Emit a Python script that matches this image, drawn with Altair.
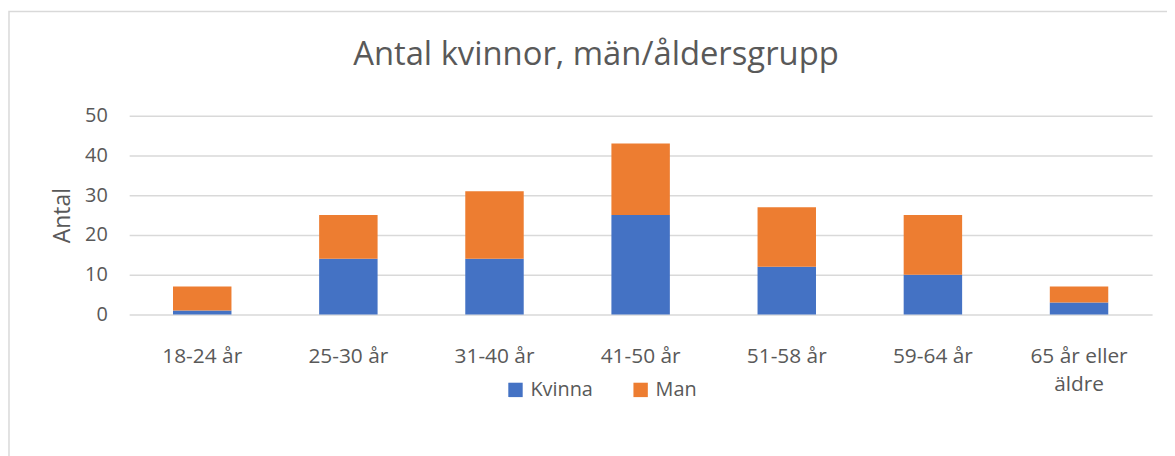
import altair as alt
import pandas as pd

categories = ["18-24 år", "25-30 år", "31-40 år", "41-50 år", "51-58 år", "59-64 år", "65 år eller äldre"]
kvinna = [1, 14, 14, 25, 12, 10, 3]
man = [6, 11, 17, 18, 15, 15, 4]
series = ["Kvinna", "Man"]
colors = ["#4472C4", "#ED7D31"]
y_ticks = [0, 10, 20, 30, 40, 50]
title_text = "Antal kvinnor, män/åldersgrupp"

rows = []
for c, k, m in zip(categories, kvinna, man):
    rows.append({"grupp": c, "kon": "Kvinna", "antal": k, "ord": 0})
    rows.append({"grupp": c, "kon": "Man", "antal": m, "ord": 1})
df = pd.DataFrame(rows)

FONT = "Open Sans"
GRAY = "#595959"

bars = alt.Chart(df).mark_bar().encode(
    x=alt.X("grupp:N", sort=categories,
            scale=alt.Scale(paddingInner=0.6, paddingOuter=0.3),
            axis=alt.Axis(title=None, labelAngle=0, labelFontSize=21, labelFont=FONT,
                          labelColor=GRAY, labelPadding=31, ticks=False, domain=False,
                          grid=False, labelLineHeight=29,
                          labelExpr="datum.value == '65 år eller äldre' ? ['65 år eller', 'äldre'] : datum.label")),
    y=alt.Y("antal:Q", stack="zero", scale=alt.Scale(domain=[0, 50], nice=False),
            axis=alt.Axis(title="Antal", values=y_ticks, titleFontSize=23, titleFont=FONT,
                          titleFontWeight="normal", titleColor=GRAY, titlePadding=10,
                          labelFontSize=20, labelFont=FONT, labelColor=GRAY, labelPadding=22,
                          ticks=False, domain=False, gridColor="#d9d9d9", gridWidth=1.5)),
    color=alt.Color("kon:N", scale=alt.Scale(domain=series, range=colors),
                    legend=alt.Legend(title=None, orient="none", direction="horizontal",
                                      legendX=379, legendY=266, symbolType="square",
                                      symbolSize=210, symbolStrokeWidth=0, labelFontSize=20,
                                      labelFont=FONT, labelColor=GRAY, labelOffset=5,
                                      columnPadding=38)),
    order=alt.Order("ord:Q"),
)

border = alt.Chart(pd.DataFrame({"a": [0]})).mark_rect(
    fill=None, stroke="#d9d9d9", strokeWidth=1.5
).encode(
    x=alt.value(-121), x2=alt.value(1200), y=alt.value(-105), y2=alt.value(600)
)

title = alt.Chart(pd.DataFrame({"t": [title_text]})).mark_text(
    font=FONT, fontSize=33, color=GRAY, align="center", baseline="alphabetic"
).encode(
    text="t:N", x=alt.value(470), y=alt.value(-51)
)

chart = alt.layer(border, bars, title).properties(
    width=1030, height=200,
    autosize=alt.AutoSizeParams(type="none"),
    padding={"left": 122, "top": 107, "right": 15, "bottom": 141},
).configure_view(stroke=None)

chart.save("out.html", embed_options={"renderer": "svg", "actions": False})
